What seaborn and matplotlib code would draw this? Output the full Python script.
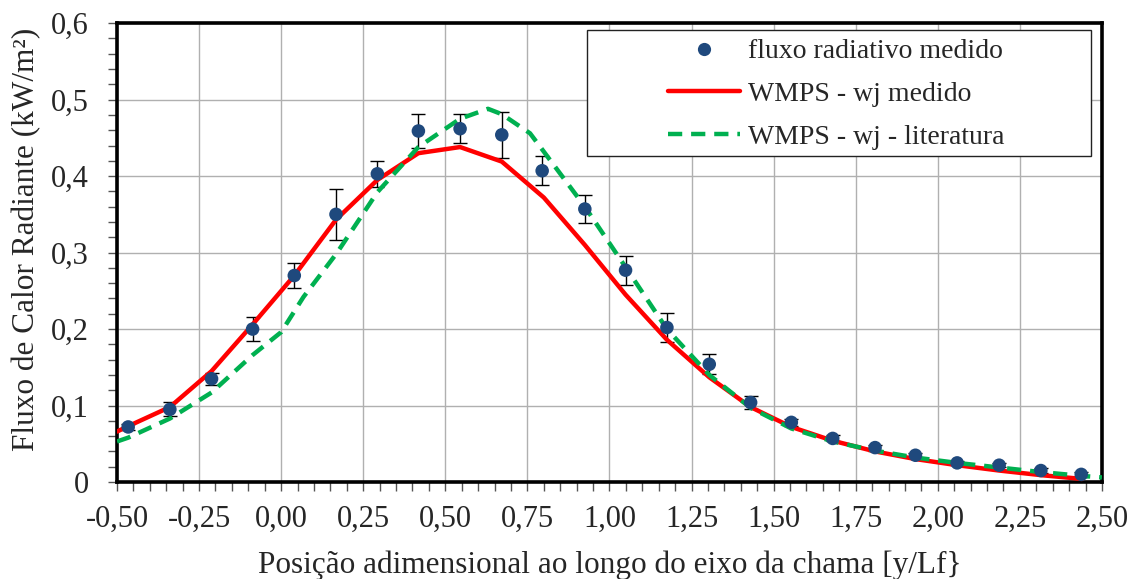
import matplotlib
matplotlib.use("Agg")
import matplotlib.pyplot as plt
import seaborn as sns
import pandas as pd
from matplotlib.ticker import MultipleLocator, FixedLocator, FuncFormatter
from matplotlib.lines import Line2D
from matplotlib.patches import Rectangle

# Measured radiative flux along the flame axis
pos_medido = [-0.466, -0.339, -0.212, -0.087, 0.040, 0.167, 0.293, 0.418,
              0.545, 0.672, 0.795, 0.925, 1.049, 1.175, 1.304, 1.430,
              1.554, 1.680, 1.809, 1.932, 2.059, 2.187, 2.314, 2.437]
fluxo_medido = [0.072, 0.095, 0.135, 0.200, 0.270, 0.350, 0.403, 0.459,
                0.462, 0.454, 0.407, 0.357, 0.277, 0.202, 0.154, 0.104,
                0.078, 0.057, 0.045, 0.035, 0.025, 0.022, 0.015, 0.010]
erro_medido = [0.004, 0.009, 0.008, 0.016, 0.016, 0.033, 0.017, 0.022,
               0.019, 0.030, 0.019, 0.018, 0.019, 0.019, 0.013, 0.008,
               0.005, 0.004, 0.004, 0.003, 0.003, 0.003, 0.003, 0.003]

# WMPS model with measured wj
pos_wj_medido = [-0.50, -0.466, -0.339, -0.212, -0.087, 0.040, 0.167, 0.293,
                 0.418, 0.545, 0.672, 0.800, 0.925, 1.049, 1.175, 1.304,
                 1.430, 1.554, 1.680, 1.809, 1.932, 2.059, 2.187, 2.314, 2.440]
fluxo_wj_medido = [0.066, 0.073, 0.098, 0.145, 0.206, 0.270, 0.343, 0.395,
                   0.430, 0.438, 0.419, 0.372, 0.310, 0.245, 0.186, 0.137,
                   0.098, 0.072, 0.054, 0.040, 0.030, 0.022, 0.015, 0.009, 0.004]

# WMPS model with wj from literature
pos_wj_lit = [-0.50, -0.466, -0.339, -0.212, -0.087, 0.000, 0.068, 0.169,
              0.293, 0.418, 0.545, 0.630, 0.672, 0.758, 0.800, 0.925,
              1.049, 1.175, 1.304, 1.430, 1.554, 1.680, 1.809, 1.932,
              2.059, 2.187, 2.314, 2.440, 2.500]
fluxo_wj_lit = [0.053, 0.058, 0.083, 0.117, 0.166, 0.196, 0.242, 0.299,
                0.379, 0.438, 0.475, 0.488, 0.481, 0.456, 0.432, 0.360,
                0.281, 0.200, 0.140, 0.097, 0.070, 0.053, 0.041, 0.032,
                0.025, 0.019, 0.013, 0.008, 0.006]

x_ticks = [-0.50, -0.25, 0.00, 0.25, 0.50, 0.75, 1.00, 1.25, 1.50, 1.75, 2.00, 2.25, 2.50]
y_ticks = [0.0, 0.1, 0.2, 0.3, 0.4, 0.5, 0.6]

sns.set_theme(style="white")
plt.rcParams["font.family"] = ["Liberation Serif", "DejaVu Serif"]

fig = plt.figure(figsize=(11.36, 5.79), dpi=100)
ax = fig.add_axes([0.103, 0.1675, 0.867, 0.7925])

df_med = pd.DataFrame({"x": pos_medido, "y": fluxo_medido})
df_a = pd.DataFrame({"x": pos_wj_medido, "y": fluxo_wj_medido})
df_b = pd.DataFrame({"x": pos_wj_lit, "y": fluxo_wj_lit})

ax.errorbar(pos_medido, fluxo_medido, yerr=erro_medido, fmt="none",
            ecolor="black", elinewidth=1.0, capsize=4.7, capthick=1.0, zorder=3)
sns.lineplot(data=df_a, x="x", y="y", ax=ax, color="#FF0000", linewidth=3.2,
             sort=False, zorder=4)
sns.lineplot(data=df_b, x="x", y="y", ax=ax, color="#00B050", linewidth=3.2,
             sort=False, zorder=5)
ax.lines[-1].set_dashes((3.2, 2.0))
sns.scatterplot(data=df_med, x="x", y="y", ax=ax, color="#1F497D", s=95,
                edgecolor="none", zorder=6)

ax.set_xlim(-0.5, 2.5)
ax.set_ylim(0, 0.6)
ax.xaxis.set_major_locator(FixedLocator(x_ticks))
ax.yaxis.set_major_locator(FixedLocator(y_ticks))
ax.xaxis.set_minor_locator(MultipleLocator(0.05))
ax.yaxis.set_minor_locator(MultipleLocator(0.02))

ax.xaxis.set_major_formatter(FuncFormatter(lambda v, p: f"{v:.2f}".replace(".", ",")))
ax.yaxis.set_major_formatter(FuncFormatter(lambda v, p: "0" if abs(v) < 1e-9 else f"{v:.1f}".replace(".", ",")))

ax.grid(True, which="major", color="#b0b0b0", linewidth=1.0)
ax.set_axisbelow(True)
for s in ax.spines.values():
    s.set_visible(True)
    s.set_color("black")
    s.set_linewidth(2.6)

ax.tick_params(which="both", direction="out", length=6.5, width=1.0, color="#555555",
               bottom=True, left=True, top=False, right=False)
ax.tick_params(axis="x", which="major", labelsize=22, pad=10)
ax.tick_params(axis="y", which="major", labelsize=22, pad=14)

ax.set_xlabel("Posição adimensional ao longo do eixo da chama [y/Lf}", fontsize=22.5, labelpad=12)
ax.set_ylabel("Fluxo de Calor Radiante (kW/m²)", fontsize=22.5)
ax.yaxis.set_label_coords(-0.077, 0.529)

# Legend box with white fill, then the entries drawn on top without their own frame
fig.add_artist(Rectangle((0.5167, 0.7306), 0.4437, 0.2176, transform=fig.transFigure,
                         facecolor="white", edgecolor="#222222", linewidth=1.0, zorder=10))

handles = [
    Line2D([], [], linestyle="none", marker="o", markersize=9.5,
           markerfacecolor="#1F497D", markeredgecolor="none"),
    Line2D([], [], color="#FF0000", linewidth=3.2),
    Line2D([], [], color="#00B050", linewidth=3.2, dashes=(3.2, 2.0)),
]
labels = ["fluxo radiativo medido", "WMPS - wj medido", "WMPS - wj - literatura"]
leg = fig.legend(handles, labels, loc="upper left", bbox_to_anchor=(0.588, 0.933),
                 bbox_transform=fig.transFigure, fontsize=20, frameon=False,
                 handlelength=2.6, handletextpad=0.28, borderpad=0.0,
                 borderaxespad=0.0, labelspacing=0.63)
leg.set_zorder(11)

fig.savefig("out.png", dpi=100)
